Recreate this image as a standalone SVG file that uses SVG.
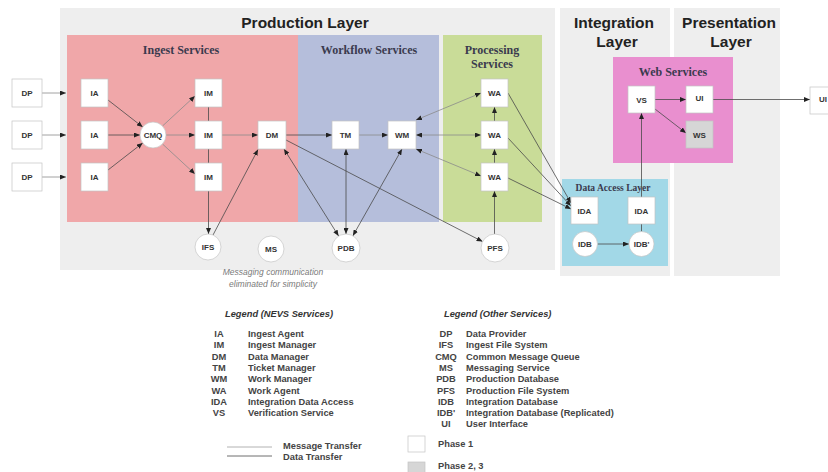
<svg xmlns="http://www.w3.org/2000/svg" width="828" height="472" viewBox="0 0 828 472">
<defs>
<marker id="ah" viewBox="0 0 6 5" refX="6" refY="2.5" markerWidth="6" markerHeight="5" markerUnits="userSpaceOnUse" orient="auto-start-reverse"><path d="M0,0L6,2.5L0,5z" fill="#222"/></marker>
<style>
.bg{fill:#eeeeee}
.node rect,.node circle{fill:#fff;stroke:#c4c4c4;stroke-width:0.7}
.node .p2{fill:#d6d6d6}
.lbl{font-family:"Liberation Sans",Arial,sans-serif;font-weight:bold;font-size:8px;fill:#333;text-anchor:middle}
.ttl{font-family:"Liberation Serif","DejaVu Serif",serif;font-weight:bold;font-size:12px;fill:#3a3a4e;text-anchor:middle}
.layer{font-family:"Liberation Sans",Arial,sans-serif;font-weight:bold;font-size:15.5px;fill:#222;text-anchor:middle}
.msg{stroke:#8a8a8a;stroke-width:0.8;fill:none;marker-end:url(#ah)}
.dat{stroke:#4a4a4a;stroke-width:0.8;fill:none;marker-end:url(#ah)}
.bi{marker-start:url(#ah)}
.note{font-family:"Liberation Sans",Arial,sans-serif;font-style:italic;font-size:8.5px;fill:#7a7a7a;text-anchor:middle}
.lh{font-family:"Liberation Sans",Arial,sans-serif;font-weight:bold;font-style:italic;font-size:9.3px;fill:#333}
.la{font-family:"Liberation Sans",Arial,sans-serif;font-weight:bold;font-size:9.3px;fill:#444;text-anchor:middle}
.ld{font-family:"Liberation Sans",Arial,sans-serif;font-weight:bold;font-size:9.3px;fill:#444}
</style>
</defs>
<rect width="828" height="472" fill="#ffffff"/>
<!-- layer backgrounds -->
<g id="layers">
<rect class="bg" x="60" y="8" width="495" height="262"/>
<rect class="bg" x="560" y="8" width="110" height="268"/>
<rect class="bg" x="674" y="8" width="106" height="268"/>
<text class="layer" x="305" y="28">Production Layer</text>
<text class="layer" x="614" y="28">Integration</text>
<text class="layer" x="617" y="47">Layer</text>
<text class="layer" x="729" y="28">Presentation</text>
<text class="layer" x="731" y="47">Layer</text>
</g>
<g id="service-panels">
<rect x="67" y="35" width="231" height="187" fill="#f0a7a9"/>
<rect x="298" y="35" width="141" height="187" fill="#b5bedb"/>
<rect x="443" y="35" width="99" height="187" fill="#c9dc98"/>
<rect x="613" y="57" width="120" height="106" fill="#e98fcf"/>
<rect x="562" y="179" width="106" height="87" fill="#a2d8e7"/>
<text class="ttl" x="181" y="54">Ingest Services</text>
<text class="ttl" x="369" y="54">Workflow Services</text>
<text class="ttl" x="492" y="54">Processing</text>
<text class="ttl" x="492" y="68">Services</text>
<text class="ttl" x="673" y="76">Web Services</text>
<text class="ttl" x="613" y="191" style="font-size:9.5px">Data Access Layer</text>
</g>
<g id="connectors">
<path class="msg" d="M42,93H66"/>
<path class="msg" d="M42,135H66"/>
<path class="msg" d="M42,177H66"/>
<path class="dat" d="M108,100L142.7,127"/>
<path class="dat" d="M108,135H140"/>
<path class="dat" d="M108,170L142.7,143"/>
<path class="msg" d="M162.5,126L195,96"/>
<path class="msg" d="M166,135H195"/>
<path class="msg" d="M162.5,144L195,174"/>
<path class="msg" d="M222,135H258"/>
<path class="dat" d="M208.5,107V234"/>
<path class="dat" d="M213,235L258,149.5"/>
<path class="dat bi" d="M284,149L338.6,236"/>
<path class="dat" d="M286,135H332"/>
<path class="dat" d="M286,140L482.6,241.6"/>
<path class="msg" d="M359,135H388"/>
<path class="dat bi" d="M346,149V234"/>
<path class="dat bi" d="M402,149L352.9,235.8"/>
<path class="msg bi" d="M416,120L481,93"/>
<path class="msg bi" d="M416,135H481"/>
<path class="msg bi" d="M416,149L481,176"/>
<path class="dat" d="M494.5,234V191"/>
<path class="dat" d="M494.5,163V149"/>
<path class="dat" d="M494.5,121V107"/>
<path class="dat" d="M508,93L571,203"/>
<path class="dat" d="M508,138L571,206"/>
<path class="dat" d="M508,178L571,209"/>
<path class="dat" d="M597.5,244H629"/>
<path class="dat" d="M641.5,231.5V113"/>
<path class="dat" d="M655,99.5H686"/>
<path class="dat" d="M655,109L686,133"/>
<path class="dat" d="M713,99.5H810"/>
</g>
<g id="n-dp1" class="node"><rect x="12" y="79" width="30" height="28"/><text class="lbl" x="27" y="96">DP</text></g>
<g id="n-dp2" class="node"><rect x="12" y="121" width="30" height="28"/><text class="lbl" x="27" y="138">DP</text></g>
<g id="n-dp3" class="node"><rect x="12" y="163" width="30" height="28"/><text class="lbl" x="27" y="180">DP</text></g>
<g id="n-ia1" class="node"><rect x="81" y="79" width="27" height="28"/><text class="lbl" x="94.5" y="96">IA</text></g>
<g id="n-ia2" class="node"><rect x="81" y="121" width="27" height="28"/><text class="lbl" x="94.5" y="138">IA</text></g>
<g id="n-ia3" class="node"><rect x="81" y="163" width="27" height="28"/><text class="lbl" x="94.5" y="180">IA</text></g>
<g id="n-cmq" class="node"><circle cx="153" cy="135" r="13"/><text class="lbl" x="153" y="138">CMQ</text></g>
<g id="n-im1" class="node"><rect x="195" y="79" width="27" height="28"/><text class="lbl" x="208.5" y="96">IM</text></g>
<g id="n-im2" class="node"><rect x="195" y="121" width="27" height="28"/><text class="lbl" x="208.5" y="138">IM</text></g>
<g id="n-im3" class="node"><rect x="195" y="163" width="27" height="28"/><text class="lbl" x="208.5" y="180">IM</text></g>
<g id="n-dm" class="node"><rect x="258" y="121" width="28" height="28"/><text class="lbl" x="272" y="138">DM</text></g>
<g id="n-tm" class="node"><rect x="332" y="121" width="27" height="28"/><text class="lbl" x="345.5" y="138">TM</text></g>
<g id="n-wm" class="node"><rect x="388" y="121" width="28" height="28"/><text class="lbl" x="402" y="138">WM</text></g>
<g id="n-wa1" class="node"><rect x="481" y="79" width="27" height="28"/><text class="lbl" x="494.5" y="96">WA</text></g>
<g id="n-wa2" class="node"><rect x="481" y="121" width="27" height="28"/><text class="lbl" x="494.5" y="138">WA</text></g>
<g id="n-wa3" class="node"><rect x="481" y="163" width="27" height="28"/><text class="lbl" x="494.5" y="180">WA</text></g>
<g id="n-ifs" class="node"><circle cx="208" cy="247" r="13"/><text class="lbl" x="208" y="250">IFS</text></g>
<g id="n-ms" class="node"><circle cx="271" cy="249" r="13"/><text class="lbl" x="271" y="252">MS</text></g>
<g id="n-pdb" class="node"><circle cx="346" cy="248" r="14"/><text class="lbl" x="346" y="251">PDB</text></g>
<g id="n-pfs" class="node"><circle cx="495" cy="248" r="14"/><text class="lbl" x="495" y="251">PFS</text></g>
<g id="n-vs" class="node"><rect x="628" y="86" width="27" height="27"/><text class="lbl" x="641.5" y="102.5">VS</text></g>
<g id="n-ui" class="node"><rect x="686" y="86" width="27" height="27"/><text class="lbl" x="699.5" y="101">UI</text></g>
<g id="n-ws" class="node"><rect class="p2" x="686" y="121" width="27" height="27"/><text class="lbl" x="699.5" y="137.5">WS</text></g>
<g id="n-ui2" class="node"><rect x="810" y="87" width="30" height="27"/><text class="lbl" x="819" y="102" style="text-anchor:start">UI</text></g>
<g id="n-ida1" class="node"><rect x="571" y="197" width="27" height="27"/><text class="lbl" x="584.5" y="213.5">IDA</text></g>
<g id="n-ida2" class="node"><rect x="628" y="197" width="27" height="27"/><text class="lbl" x="641.5" y="213.5">IDA</text></g>
<g id="n-idb" class="node"><circle cx="585" cy="244" r="12.5"/><text class="lbl" x="585" y="247">IDB</text></g>
<g id="n-idb2" class="node"><circle cx="641.5" cy="244" r="12.5"/><text class="lbl" x="641.5" y="247">IDB'</text></g>
<g id="note">
<text class="note" x="273" y="275">Messaging communication</text>
<text class="note" x="273" y="287">eliminated for simplicity</text>
</g>
<g id="legend-nevs">
<text class="lh" x="225" y="317">Legend (NEVS Services)</text>
<text class="la" x="219" y="337">IA</text><text class="ld" x="248" y="337">Ingest Agent</text>
<text class="la" x="219" y="348.3">IM</text><text class="ld" x="248" y="348.3">Ingest Manager</text>
<text class="la" x="219" y="359.6">DM</text><text class="ld" x="248" y="359.6">Data Manager</text>
<text class="la" x="219" y="370.9">TM</text><text class="ld" x="248" y="370.9">Ticket Manager</text>
<text class="la" x="219" y="382.2">WM</text><text class="ld" x="248" y="382.2">Work Manager</text>
<text class="la" x="219" y="393.5">WA</text><text class="ld" x="248" y="393.5">Work Agent</text>
<text class="la" x="219" y="404.8">IDA</text><text class="ld" x="248" y="404.8">Integration Data Access</text>
<text class="la" x="219" y="416.1">VS</text><text class="ld" x="248" y="416.1">Verification Service</text>
</g>
<g id="legend-other">
<text class="lh" x="444" y="317">Legend (Other Services)</text>
<text class="la" x="446" y="337">DP</text><text class="ld" x="466" y="337">Data Provider</text>
<text class="la" x="446" y="348.3">IFS</text><text class="ld" x="466" y="348.3">Ingest File System</text>
<text class="la" x="446" y="359.6">CMQ</text><text class="ld" x="466" y="359.6">Common Message Queue</text>
<text class="la" x="446" y="370.9">MS</text><text class="ld" x="466" y="370.9">Messaging Service</text>
<text class="la" x="446" y="382.2">PDB</text><text class="ld" x="466" y="382.2">Production Database</text>
<text class="la" x="446" y="393.5">PFS</text><text class="ld" x="466" y="393.5">Production File System</text>
<text class="la" x="446" y="404.8">IDB</text><text class="ld" x="466" y="404.8">Integration Database</text>
<text class="la" x="446" y="416.1">IDB'</text><text class="ld" x="466" y="416.1">Integration Database (Replicated)</text>
<text class="la" x="446" y="427.4">UI</text><text class="ld" x="466" y="427.4">User Interface</text>
</g>
<g id="legend-lines">
<line x1="227" y1="447" x2="272" y2="447" stroke="#a0a0a0" stroke-width="0.8"/>
<line x1="227" y1="456" x2="272" y2="456" stroke="#4a4a4a" stroke-width="0.8"/>
<text class="ld" x="283" y="449">Message Transfer</text>
<text class="ld" x="283" y="460">Data Transfer</text>
</g>
<g id="legend-phase">
<rect x="408" y="436" width="17" height="16" fill="#fff" stroke="#c4c4c4" stroke-width="0.7"/>
<text class="ld" x="438" y="447">Phase 1</text>
<rect x="408" y="462" width="17" height="14" fill="#d6d6d6" stroke="#c4c4c4" stroke-width="0.7"/>
<text class="ld" x="438" y="469">Phase 2, 3</text>
</g>
</svg>
